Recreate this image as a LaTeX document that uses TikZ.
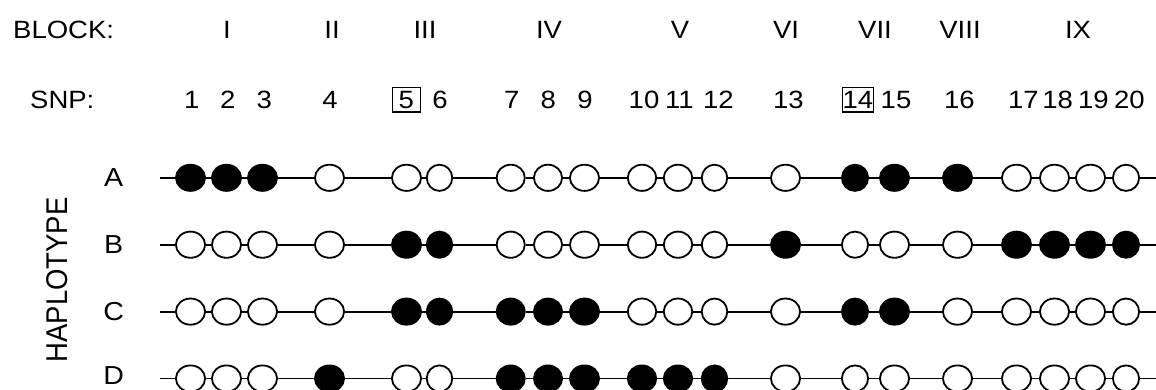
\documentclass[tikz,border=0pt]{standalone}
\usepackage{fontspec}
\setmainfont{Liberation Sans}[FakeStretch=1.1]
\usetikzlibrary{shapes.geometric}
\begin{document}
\begin{tikzpicture}[x=1pt,y=-1pt,
  lab/.style={font=\fontsize{25}{30}\selectfont, inner sep=0pt, text depth=0pt},
  rowlab/.style={lab, font=\fontsize{26}{30}\selectfont},
  snp/.style={ellipse, draw=black, line width=1.8pt, inner sep=0pt, minimum height=26.2pt},
  on/.style={snp, fill=black},
  off/.style={snp, fill=white},
  link/.style={line width=1.8pt},
  hl/.style={lab, draw=black, line width=1.3pt, minimum width=28pt, minimum height=24.7pt}]
\useasboundingbox (0,0) rectangle (1156,389);

% header
\node[lab, anchor=west] (blockhead) at (13,30) {BLOCK:};
\node[lab, anchor=west] (snphead) at (30,100) {SNP:};
\foreach \b/\x in {I/227,II/332,III/425,IV/549,V/680,VI/786,VII/875,VIII/960,IX/1078}
  \node[lab] (blk\b) at (\x,30) {\b};
\foreach \n/\x in {1/191.7,2/227.7,3/264.3,4/330,6/440,7/511.7,8/548.3,9/585,10/644,11/679.3,12/718.3,13/788.3,15/896,16/959.3,17/1023.3,18/1057.7,19/1093.3,20/1129.3}
  \node[lab] (num\n) at (\x,100) {\n};
\node[hl] (num5) at (406.2,99.7) {5};
\node[hl] (num14) at (857.9,99.7) {14};

% haplotype label
\node[lab, rotate=90] (haplo) at (57.5,280) {\scalebox{1}[1.2]{HAPLOTYPE}};

% rows
\foreach \row/\yy/\ly/\pat in {
  A/177.8/177.8/{1,1,1,0,0,0,0,0,0,0,0,0,0,1,1,1,0,0,0,0},
  B/244.7/244.7/{0,0,0,0,1,1,0,0,0,0,0,0,1,0,0,0,1,1,1,1},
  C/311.6/311.6/{0,0,0,0,1,1,1,1,1,0,0,0,0,1,1,0,0,0,0,0},
  D/378.5/375.5/{0,0,0,1,0,0,1,1,1,1,1,1,0,0,0,0,0,0,0,0}} {
  \node[rowlab] (lab\row) at (113.7,\ly) {\row};
  \coordinate (\row0) at (160,\yy);
  \coordinate (\row21) at (1160,\yy);
  \foreach \x/\w [count=\i] in {190.5/29.2,226.5/29.2,262.5/29.2,329.5/29.2,406.5/29.2,439.5/25.5,
      510.7/28.2,548/28.2,584.5/29.2,642/28.5,678/28.5,714.5/25.5,785.5/29.2,855/26.2,894.5/29.2,
      957.5/29.2,1016.5/29.2,1054.5/29.2,1090.5/29.2,1126/26.2} {
    \pgfmathtruncatemacro\f{{\pat}[\i-1]}
    \ifnum\f=1 \def\st{on}\else\def\st{off}\fi
    \node[\st, minimum width=\w pt] (\row\i) at (\x,\yy) {};
  }
  \foreach \i [evaluate=\i as \j using int(\i+1)] in {0,...,20}
    \draw[link] (\row\i) -- (\row\j);
}
\end{tikzpicture}
\end{document}
